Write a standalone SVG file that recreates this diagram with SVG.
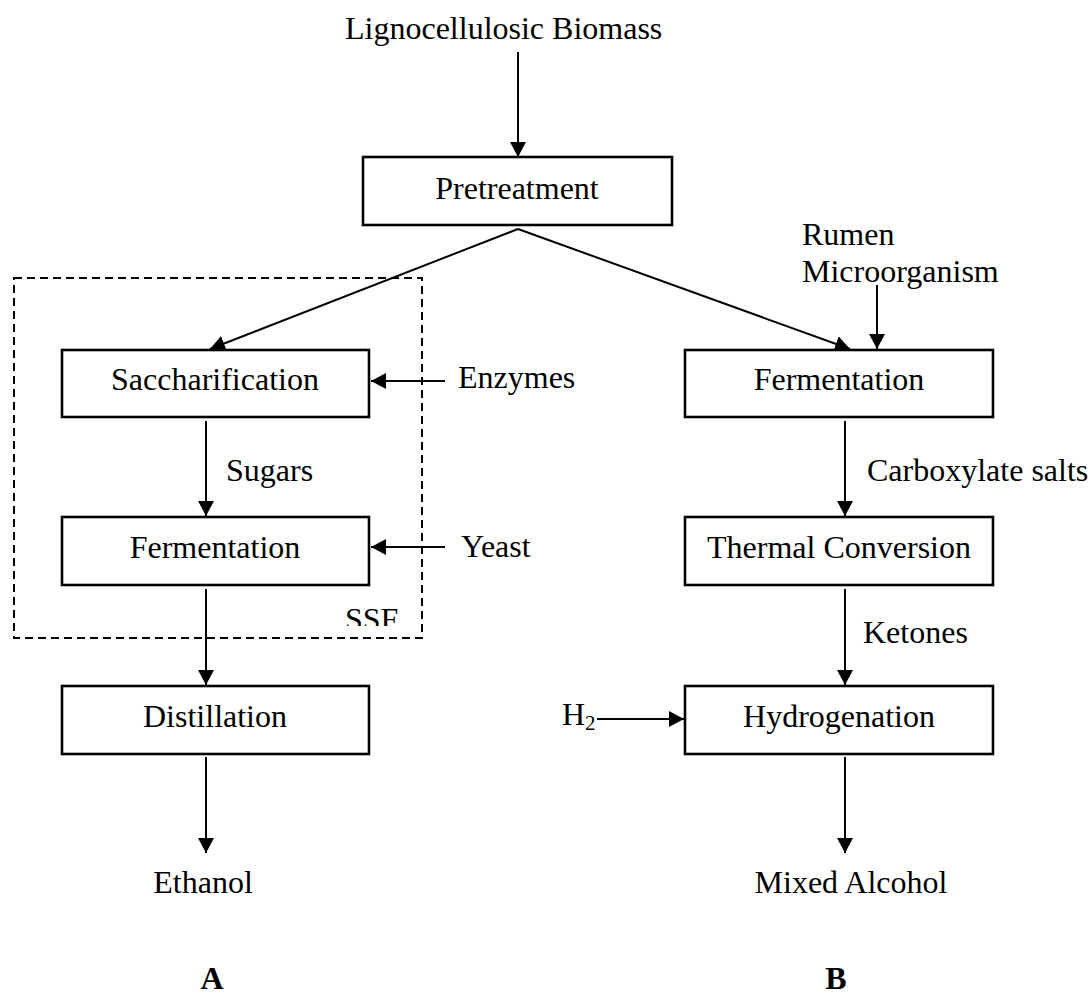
<svg xmlns="http://www.w3.org/2000/svg" width="1092" height="995" viewBox="0 0 1092 995">
<style>
  text { font-family: "Liberation Serif", "Times New Roman", serif; font-size: 32px; fill: #000; }
  .mid { text-anchor: middle; }
  .bold { font-weight: bold; }
  .box { fill: #fff; stroke: #000; stroke-width: 2.6; }
  .conn { stroke: #000; stroke-width: 2; fill: none; }
  .arrow { marker-end: url(#ah); }
  .dash { fill: none; stroke: #000; stroke-width: 2; stroke-dasharray: 8 5; }
</style>
<defs>
  <marker id="ah" markerUnits="userSpaceOnUse" markerWidth="16" markerHeight="16" refX="15" refY="8" orient="auto">
    <path d="M0,0 L15,8 L0,16 z" fill="#000"/>
  </marker>
  <clipPath id="ssfclip"><rect x="330" y="590" width="80" height="36"/></clipPath>
</defs>
<rect width="1092" height="995" fill="#fff"/>

<g id="ssf-region">
  <rect class="dash" x="14" y="278" width="408" height="360"/>
  <text x="345" y="630" clip-path="url(#ssfclip)">SSF</text>
</g>

<g id="connectors">
  <line class="conn arrow" x1="518" y1="52" x2="518" y2="157"/>
  <line class="conn arrow" x1="518" y1="229" x2="210" y2="349"/>
  <line class="conn arrow" x1="518" y1="229" x2="850" y2="349"/>
  <line class="conn arrow" x1="877" y1="285" x2="877" y2="349"/>
  <line class="conn arrow" x1="445" y1="381" x2="371" y2="381"/>
  <line class="conn arrow" x1="206" y1="421" x2="206" y2="516"/>
  <line class="conn arrow" x1="445" y1="547" x2="371" y2="547"/>
  <line class="conn arrow" x1="206" y1="589" x2="206" y2="685"/>
  <line class="conn arrow" x1="206" y1="757" x2="206" y2="853"/>
  <line class="conn arrow" x1="845" y1="421" x2="845" y2="516"/>
  <line class="conn arrow" x1="845" y1="589" x2="845" y2="685"/>
  <line class="conn arrow" x1="597" y1="719" x2="684" y2="719"/>
  <line class="conn arrow" x1="845" y1="757" x2="845" y2="853"/>
</g>

<g id="biomass"><text x="345" y="39">Lignocellulosic Biomass</text></g>
<g id="pretreatment">
  <rect class="box" x="363" y="157" width="309" height="68"/>
  <text class="mid" x="517" y="199">Pretreatment</text>
</g>
<g id="rumen"><text x="802" y="245">Rumen</text><text x="802" y="282">Microorganism</text></g>

<g id="saccharification">
  <rect class="box" x="62" y="350" width="307" height="67"/>
  <text class="mid" x="215" y="390">Saccharification</text>
</g>
<g id="enzymes"><text x="458" y="388">Enzymes</text></g>
<g id="sugars"><text x="226" y="481">Sugars</text></g>
<g id="fermentation-a">
  <rect class="box" x="62" y="517" width="307" height="68"/>
  <text class="mid" x="215" y="558">Fermentation</text>
</g>
<g id="yeast"><text x="461" y="557">Yeast</text></g>
<g id="distillation">
  <rect class="box" x="62" y="686" width="307" height="68"/>
  <text class="mid" x="215" y="727">Distillation</text>
</g>
<g id="ethanol"><text class="mid" x="203" y="893">Ethanol</text></g>
<g id="label-a"><text class="mid bold" x="212" y="989">A</text></g>

<g id="fermentation-b">
  <rect class="box" x="685" y="350" width="308" height="67"/>
  <text class="mid" x="839" y="390">Fermentation</text>
</g>
<g id="carboxylate"><text x="867" y="481">Carboxylate salts</text></g>
<g id="thermal">
  <rect class="box" x="685" y="517" width="308" height="68"/>
  <text class="mid" x="839" y="558">Thermal Conversion</text>
</g>
<g id="ketones"><text x="863" y="643">Ketones</text></g>
<g id="hydrogenation">
  <rect class="box" x="685" y="686" width="308" height="68"/>
  <text class="mid" x="839" y="727">Hydrogenation</text>
</g>
<g id="h2"><text x="562" y="725">H<tspan font-size="21" dy="5">2</tspan></text></g>
<g id="mixed-alcohol"><text class="mid" x="851" y="893">Mixed Alcohol</text></g>
<g id="label-b"><text class="mid bold" x="836" y="989">B</text></g>
</svg>
